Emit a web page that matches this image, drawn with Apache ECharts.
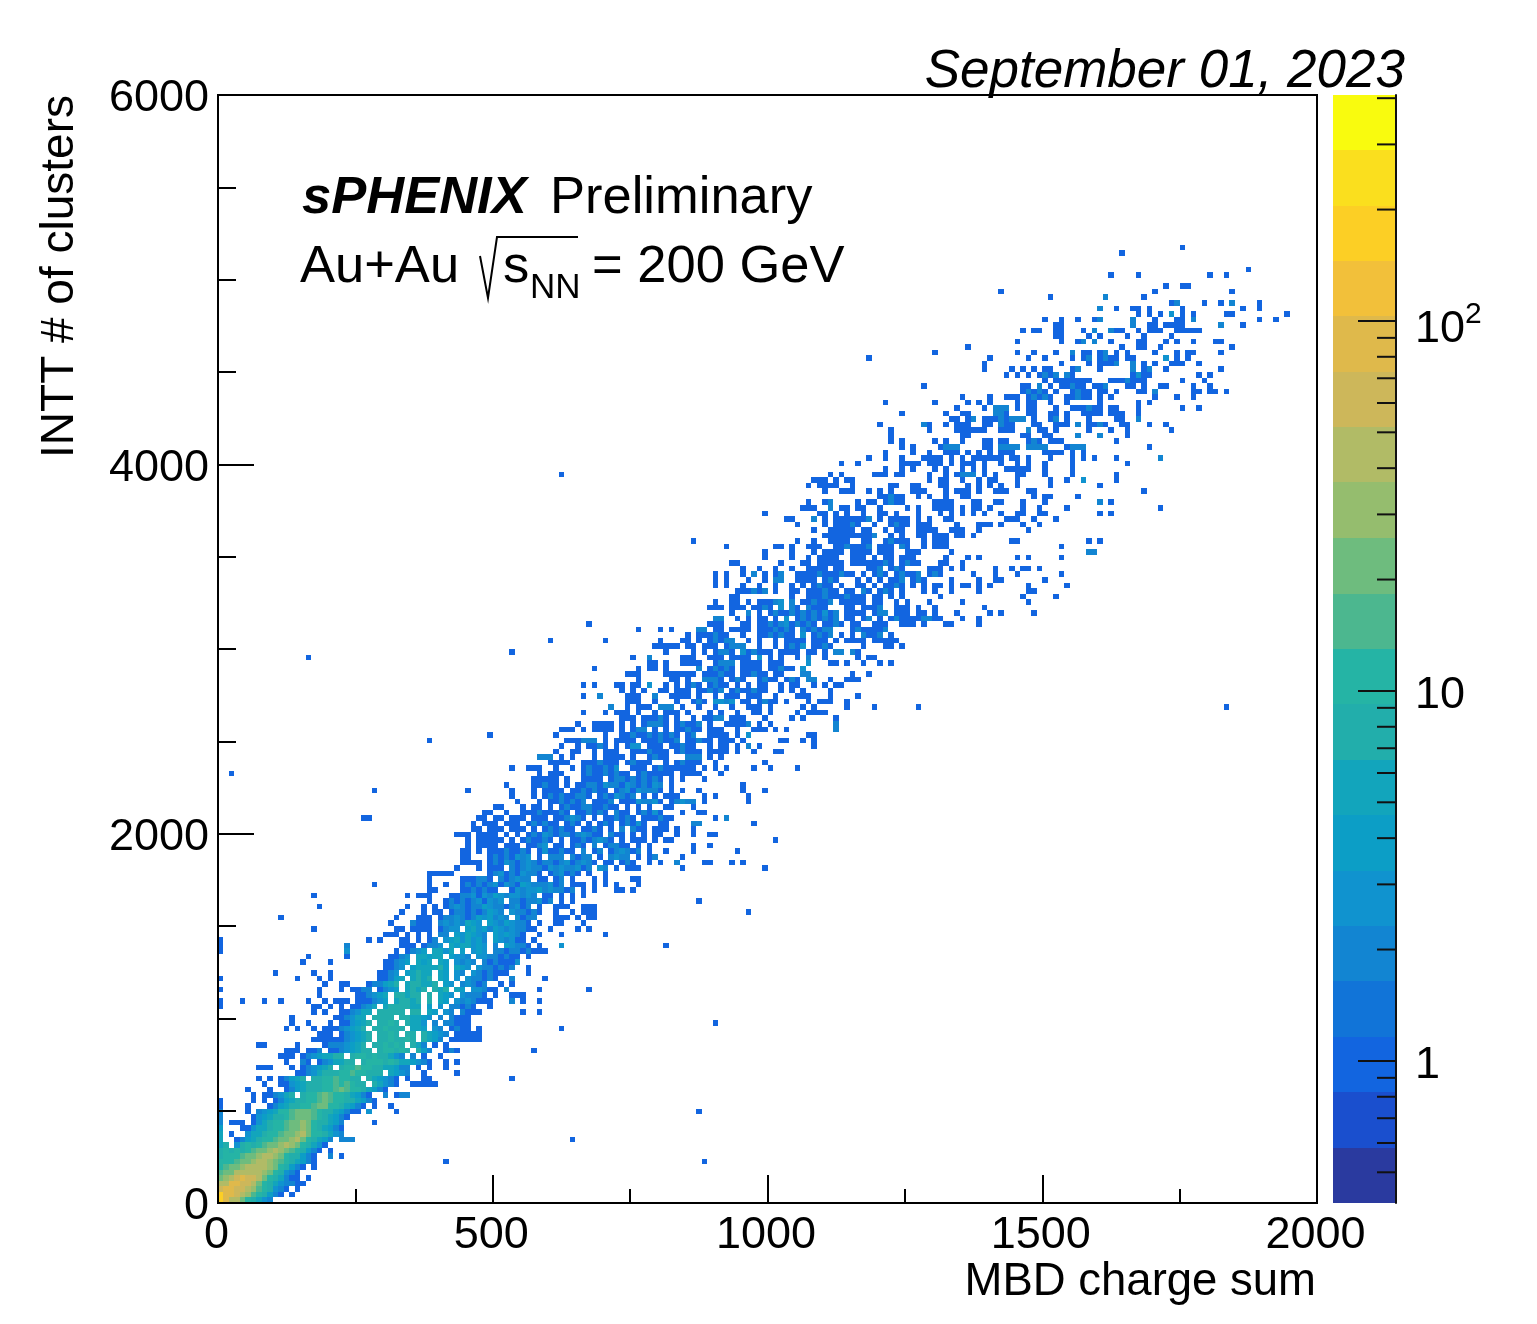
<!DOCTYPE html>
<html>
<head>
<meta charset="utf-8">
<title>INTT clusters vs MBD charge</title>
<script src="https://cdn.jsdelivr.net/npm/echarts@6/dist/echarts.min.js"></script>
<style>
  html, body { margin: 0; padding: 0; background: #fff; }
  #main { width: 1537px; height: 1324px; }
</style>
</head>
<body>
<div id="main"></div>
<script>
// histogram binning, one cell is 10 charge units by 30 clusters
const binX = 10
const binY = 30

// [row, first column, counts], '.' is an empty bin
// 1-9 are counts, letters are the larger counts in largeCounts
const largeCounts = {a: 10, b: 12, c: 15, d: 20, e: 25, f: 30, g: 40, h: 50, i: 60, j: 80, k: 100, l: 150, m: 200}
const upperRows = [
  [172,175,"1"],[171,164,"1"],[168,187,"1"],[167,162,"1....1............1..1"],[165,172,"1..11"],
  [164,142,"1"],[164,170,"1"],[164,184,"1"],[163,151,"1"],[163,161,"2......1"],[162,173,"12....1..1.2....1"],
  [161,160,"2..1..11.1.....1..........1..1"],[160,167,"1.1.1.3.1.1.....11"],[160,194,"1"],
  [159,150,"1..1..1..12.....2...1...11.2"],[159,189,"1..1"],[158,152,"11............2..11.1111......2...1"],
  [157,146,"1.11..11...1.2..211..1.111..11111"],[156,152,"11....1.1....1..1....1"],
  [155,145,"1.......1..12.2..1....11...1.1..1...11"],[154,136,"1"],[154,164,"1..11..1"],[154,184,"1"],
  [153,130,"1"],[153,145,"1..1...1..2.11.12.1.1....1...1.11....1"],[152,118,"1"],[152,140,"1"],
  [152,147,"1..1....1.12.1211.11.....3.1.1"],[151,139,"1"],[151,153,"1....1.1112..2.1.1..111..1"],
  [150,139,"1....1.1.1.11...12...1.....2.12..1"],[150,182,"1"],[149,143,"1.1.1.1212.21"],[149,166,"1311........1.1"],
  [148,150,"1.1111111...1112111"],[148,175,"1...1"],[147,128,"1"],[147,146,"11.2.1.11211.112...11.1..11....1..1"],
  [146,146,"12121.1..1211.11.1...11.2.......1.11.1"],[146,177,"11.1"],
  [145,135,"1....1..111.12121..11211.1.1.......1...1"],[145,177,"1"],[144,121,"1"],
  [144,130,"1.....1.1.1....1.11..1..1.....1......1.1"],[143,134,"1....1.222.1.11...1..111211.11...1"],[143,175,"1..1"],
  [142,124,"1"],[142,132,"1..11....221...11..11.1..1111.111..1"],[141,133,"11.12.11121222.1..12.1...1....11..2"],
  [140,120,"1"],[140,128,"21..1.111..11.211...11..111.2.1121..11...1"],[140,172,"1"],
  [139,122,"1"],[139,129,"1....111111..111..2.11.1.....1...1..1"],[139,173,"1"],
  [138,122,"1"],[138,135,"11.........11..11....2...2....1"],[137,122,"1.1.....1.1..1...11.11...121.111.........1"],
  [136,124,"1.1....1222....11.2222.2222...1222"],[136,169,"1"],[135,121,"1....1..1..111.1.1.1.111.....1111.1.1"],
  [134,118,"1..1..1...1111.1.1.111111.11.1...1...1.1.1...1.......2"],
  [133,113,"1"],[133,116,"1.......1111.111.1.111.1..1..1.1..1....1.........1"],
  [132,121,"1..1.1...1.1..1.1.1...11111..1....1"],[131,111,"1.1"],
  [131,119,"111.11....1..1.1222.1.1...11...1....1.......1"],[130,108,"111.1.1"],
  [130,115,"1.............1.11..1..1.11...1.....1..1..3.....1"],[129,107,"1.1111..1"],
  [129,122,"11..11...11...1.1.1.1..1.....1........1"],[128,110,"1..11"],[128,115,"1..1.1.1...111...1.111.1..111...11"],
  [128,168,"1"],[127,120,"11211..1.1..1..11...........1.11....1"],[126,107,"1..12"],
  [126,116,"1.11.1211.....1111...11..11...1...1.........2.1"],[125,106,"111..2.11"],
  [125,116,"11..1....1.1..1111.1.11.1.....1..1....1"],[125,171,"1"],[124,99,"1"],[124,109,"11.1.1"],
  [124,117,"1..11.1...1...1.1.1.1.1..1..11..11.........1.1"],[123,103,"11...2.1.111"],
  [123,115,"1112.1.1111.1.1..11.........111..1...1"],[122,105,"1....1.11111"],
  [122,115,"21..1..1211.111....1...111.1...1..1"],[121,108,"1..1111"],[121,115,"1.11..1.11..1111..111..1........1"],
  [120,110,"111111"],[120,115,"11112..1.1..11.111.11.1"],[119,86,"1"],[119,105,"1..1..1111"],
  [119,117,"11..12111..1.111"],[119,144,"11............1.1"],[118,92,"1"],[118,101,"11.1..111..1122"],
  [118,115,"1112.111.21..1.111"],[118,153,"1"],[117,99,"1....1...1.1111.111"],[117,116,"111.111..111.....1"],[117,158,"22"],
  [116,99,"1"],[116,104,"1..1.1111..111"],[116,115,"1.1.1.11.111.....1...1.1......1.1.....1"],
  [115,93,"11"],[115,102,"1...11.11111.1....11"],[115,116,"1111121.1211...11..1"],
  [114,95,"1..1..1..1..1111.11"],[114,118,"112.121....111.1.1.....1..1.11.1"],
  [113,90,"1.1..1.2.1.12..11112111211.1"],[113,119,"121.12112.121.....1...1...1.......1"],
  [112,90,"1.1...1..1.22..1111.121"],[112,116,"1.1.1.112.121....1....1..11.......1"],
  [111,90,"1.1..1..1..1..1.1.1211.1"],[111,116,"11.1.1121.1.1.11.1.11.1.1......1......1"],
  [110,94,"111212.1..11.111211.11"],[110,115,"1.21.121.1...1.1..1....1........11"],
  [109,93,"11.........1..111211121"],[109,115,"111.11.1.1......1..............1.....1"],
  [108,90,"1..11.1.11123.2.112112.11111"],[108,119,"11..1.1...1.....1...........1"],
  [107,89,"111.111.1121.3.21.2111...11.1"],[107,117,"1112..111.1..1........1"],
  [106,93,"1..2.1.1211212121312.11"],[106,115,"111.122.111.11.1...1.....1.1.....1"],
  [105,90,"22..1.1.11.1.3.12121212.11"],[105,115,"1.12.1.1211112211...1..1"],
  [104,67,"1"],[104,89,"111...11.11212312121.1121"],[104,115,"11..111..111.1...11....1"]
]
const middleRows = [
  [103,76,"1...1.1....22.11.1111.1112121.212122...1"],[103,115,"1211112"],
  [102,85,"1.111211..1..1121211.3.1212.1.1.2112.1"],[101,60,"1.........1.........1"],
  [101,84,"11.1.12122..1.1..1.1111.111.1.1111.11111"],[100,79,"11111.11.111.1222..1..1.1213.1121.....1...11.1"],
  [99,53,"1"],[99,81,"1....1.1.1221.312111.1111.11.1.22.21"],[98,75,"1..2.....111..111.1111.3.1.1..1.2..1.....1.11"],
  [97,78,"11.1..1111..1222.1111.111....3...11.1..1..1.1"],[96,68,"1"],[96,76,"1.11.1.....2.12121.1111.11211.3"],
  [95,74,"111....111111.111211.11211.11...22.......1..1"],[94,76,"1.....11.1..2221.121..1211.121.22..1..111"],
  [93,66,"1.1...11.11.3..1.1.121.1211.1.1.11..1.11..1.1.11"],[92,73,"1.1.1..11.111.11212.1211211..1.1.1....1"],
  [91,66,"1..2....111..2..1111.1..1.111.111..1...111...1....1"],[90,74,"111..1...1..121.3323.11.1211.1...1.111..1"],
  [89,71,"2..1.111.222.1..1..1..1..111.1.....1.1.....1....1"],[89,127,"1"],[89,183,"1"],
  [88,66,"1...1.111.1..1.111.1...1.1..1..11.1....1.1111"],[87,73,"111.11121.1..1.1122.111...1....1.1.....1"],
  [86,65,"1..1111.1.1.12221.12112.1..11112.1.1...........2"],[85,62,"111.1.1111.1.122.1.1.11211.111..1..111.1.1........2"],
  [84,49,"1"],[84,61,"1........1..11211212121.12..1111.1.3..........11"],[83,38,"1"],
  [83,63,"111222.1.1111.1112112.11211.111.1......11..1.1"],[82,62,"1..1.1121.1.133.111.11211..1.11.1.2.1.........1"],
  [81,61,"1..11..1.111..1112111.12111.1111.1..1...11"],[80,58,"222.1.1...1.1111.1..1211...222.1.1"],
  [79,60,"1111..1112111.12111..1.12111..1........1"],[78,53,"1..111..1..1.1211213..111.12111111.1.1.1....1..1....1"],
  [77,2,"1"],[77,58,"1.111...121121211.1211111.1111...1"],[76,57,"11111.1..1111.1221212121.1.1...1"],
  [75,52,"1....11211.1.1122132213212132.1"],[75,95,"1"],[74,28,"1"],[74,45,"1"],
  [74,53,"1...1.1111.1121211.123132221.1.1..1.......1...1"],[73,53,"1...1.121211221.1213212.1.1.111....1.1.....1"],
  [72,54,"1...1.1121212.1112.11132231.12322.1.......1"],[71,50,"11...1.11.1.12112211211.1.1.1..11...1"],
  [70,48,"11..1..111211121.112121.211.12131...1..11"],[69,26,"11"],[69,47,"11.11.111.111.112321.1.112121.111211.......1.2"],
  [68,46,"1.111.111.121211.121.1.121.12131..11....22.........1"],[67,46,"11.111.111.1.121211.1121.1.2.211.111.1..1"],
  [66,43,"111.1111.1.1.12132122123211.211.1.1.11..1..1..11"],[65,45,"1.11111.1.121121.1.11212321.1.111.1.11"],[65,101,"1"],
  [64,45,"1.1111.111.1123.11.121.2.12211.1.1.......1..1"],[63,44,"11.1.11121121.1311211.2.12.123212.1..1....1.......1"],
  [62,44,"11...12121323.1.222.2122.1.2322.1.12....1"],[61,44,"1111.12132123212212312321.11.121..1.1..2....11...1.1"],
  [60,43,"1...1.111.212322132322312.32.1.111.......1"],[60,99,"1"],[59,38,"11111......1231213221.123121.1..1"],
  [58,38,"1.....111221.212322.11.12.1...1.1....11"],[57,28,"1"],[57,38,"1..1..1212123132143222312.111.1.1.1...1"],
  [56,38,"11....1121211..132334232212.1.1...11.1"],[55,17,"1"],[55,34,"1.111...1122313243233232.11.1.1.1"],[54,87,"1"],
  [54,38,"1..12121231323.22122312.1.1"]
]
const lowerRows = [
  [53,18,"1"],[53,34,"1..1.1.1232122432212312.1..111..111"],[52,33,"1...1.11.1221212432.322121..1..1.111"],[52,96,"1"],
  [51,11,"1"],[51,32,"1...111.1223212434232.3122...111.1.11"],[50,31,"1...2111.23232543.43243221.1..11...1"],
  [49,17,"1"],[49,32,"11.1111.1233.4534243232211..1....1.1"],[48,30,"111.1.1.1.22.435432.434321..1...1.......1"],
  [47,0,"1"],[47,27,"1.1...11.1.12.34535342.432311.1"],[46,0,"1"],[46,23,"2.........111.1223.5465343.2.43221.1...3"],[46,81,"1"],
  [45,0,"1"],[45,23,"3........1.1234.6535.4.343.2212212111"],[44,16,"1......1.......1123.56456.4332.33221211.1"],
  [43,15,"1....1.........11234.546.54.3232.2121113"],[42,30,"1123.4565674.543.3221212..1"],[41,10,"1"],[41,20,"1........1123.46756.54.32.3212111...1"],
  [40,0,"1"],[40,14,"1...1.1........11245.6758.54.3.322121..2.....1"],[39,19,"1..11...122457.678657.43.23212..1.1"],
  [38,0,"1"],[38,18,"1...1.1122.1234.5768.768.54.33211.2"],[38,58,"1"],[38,67,"1"],[37,18,"1......112345.78679.7.543.32221.1..111"],
  [36,0,"1...1...1..1....1..1.111.111234.68768.7.54.3232111...2.1..1"],[35,0,"1"],[35,17,"11.1.1.11235.6787965.4.3.22121..1"],
  [34,17,"1.1..112356.78979.87.54.32.2111"],[34,55,"1..1"],[33,13,"1.......112356.8987.876543.2.2111"],
  [32,13,"1..1...1.113467.97a8.7653.2.22111"],[32,90,"1"],[31,12,"1.1..1.11123467.89a879.654.32.1211.1"],[31,62,"1"],
  [30,18,"111.123467.98a7.98.76432.11111"],[29,17,"11111123457.89a98a8.7642.111111"],[28,7,"11.....1....12223457.89a9a8.752.1.1"],
  [27,12,"111.112.11234679.8ab9a8.742..121"],[27,57,"1"],[26,11,"111.12345678.9ab9a87532.2.1..1"],
  [25,12,"1..21.1235679.8abb9a7654321..1.1"],[24,7,"111...1.123467.9abcba8765422.1.1..1"],
  [23,14,"11235789abcba987.5432..1.....1"],[22,7,"1.1.12457.89abcba98.764321.1..11"],[22,53,"1"],
  [21,8,"1..11346789abcbca98.75321..11111"],[20,5,"1...1..1245789abcdcba86421"],[19,6,"1.112357.8abcdcba86421..2.122"],
  [18,0,"1.....1.1.124679abcdcba875421"],[17,0,"1....1...124679abcdeba86421.1..1"],[16,0,"2....1.2346abcdedcb9754211.3....1"],
  [16,87,"1"],[15,0,"2.....134689bcdedca75421"],[14,0,"2.111.1357abcdefdb98642.....1"],[13,0,"4...113568abcdefdb96421"],
  [12,0,"5.1..3568abcdefgdba7532"],[11,0,"5..12467abcdefgdb9642.222"],[11,64,"1"],[10,0,"67.39a8bcdefgfdb9531"],
  [9,0,"7a8a9bcdefgfeca7421.1"],[8,0,"8aabcdefggfdb97421..2.1"],[7,0,"abbcdefggfeca86421"],[7,41,"1"],[7,88,"1"],
  [6,0,"bcdefghggfdb8421.1"],[5,0,"cdeghhhgfda7321"],[4,0,"efgijiigeb85211.1"],[3,0,"ghjjiigeb9532211"],
  [2,0,"ijjiihfca7321.1"],[1,0,"lkjihfca7421.1"],[0,0,"mkhgeb8532"]
]
const strayRows = [
  [131,62,"1"],[98,16,"1"],[99,53,"1"],[104,67,"1"],[101,70,"1"],[103,76,"1"],[84,49,"1"],[57,28,"1"],[55,17,"1"],
  [53,18,"1"],[43,20,"1"],[41,17,"1"],[60,99,"1"],[72,96,"1"],[65,101,"1"]
]

// colour scale, 20 bands on a log axis
const bandEdges = [0.413,0.583,0.824,1.16,1.64,2.32,3.27,4.62,6.52,9.2,13,18.3,25.9,36.6,51.6,72.9,103,145,205,289,408]
const bandColors = ['#2a3a9f','#1a4fce','#1265e0','#1174d8','#1285d2','#1093cf','#0c9ec6','#12a5bc','#22aeab','#25b4a5',
  '#4cb78f','#6ebc7e','#95bd6e','#b1bb66','#cdb75a','#dfb94b','#f2c03a','#fccf25','#fadf1e','#f9fb0e']
const barMajorTicks = [1, 10, 100]
const barMinorTicks = [0.5,0.6,0.7,0.8,0.9,2,3,4,5,6,7,8,9,20,30,40,50,60,70,80,90,200,300,400]

const cellMap = new Map()
for (const [row, firstCol, counts] of [...upperRows, ...middleRows, ...lowerRows, ...strayRows]) {
  [...counts].forEach((ch, i) => {
    if (ch === '.') return
    const col = firstCol + i
    cellMap.set(col + '_' + row, [col * binX, row * binY, largeCounts[ch] || Number(ch)])
  })
}
const cells = [...cellMap.values()]

const font = 'Liberation Sans'
const black = '#000'
const chart = echarts.init(document.getElementById('main'), null, {renderer: 'canvas'})

chart.setOption({
  animation: false,
  backgroundColor: '#fff',
  textStyle: {fontFamily: font},
  grid: [
    {left: 218, top: 95, width: 1099, height: 1108, outerBoundsMode: 'none', show: true, borderColor: black, borderWidth: 2, backgroundColor: '#fff'},
    {left: 1333, top: 95, width: 63, height: 1108, outerBoundsMode: 'none'}
  ],
  xAxis: [
    {
      type: 'value', gridIndex: 0, min: 0, max: 2000, interval: 500, z: 5,
      axisLine: {lineStyle: {color: black, width: 2}},
      axisTick: {inside: true, length: 28, lineStyle: {color: black, width: 2}},
      minorTick: {show: true, splitNumber: 2, length: 14, lineStyle: {color: black, width: 2}},
      splitLine: {show: false},
      axisLabel: {fontSize: 45, color: black, margin: 10, padding: [0, 3, 0, 0], hideOverlap: false, showMinLabel: true, showMaxLabel: true, formatter: (v) => String(v)}
    },
    {type: 'value', gridIndex: 1, min: 0, max: 1, show: false}
  ],
  yAxis: [
    {
      type: 'value', gridIndex: 0, min: 0, max: 6000, interval: 2000, z: 5,
      name: 'INTT # of clusters', nameLocation: 'end', nameGap: 0, nameRotate: 90,
      nameTextStyle: {fontSize: 46, color: black, align: 'right', verticalAlign: 'bottom', padding: [0, 0, 135, 0]},
      axisLine: {lineStyle: {color: black, width: 2}},
      axisTick: {inside: true, length: 36, lineStyle: {color: black, width: 2}},
      minorTick: {show: true, splitNumber: 4, length: 18, lineStyle: {color: black, width: 2}},
      splitLine: {show: false},
      axisLabel: {
        color: black, margin: 9, showMinLabel: true, showMaxLabel: true,
        formatter: (v) => '{t|' + v + '}',
        rich: {t: {fontSize: 45, color: black, fontFamily: font, padding: [8, 0, 0, 0]}}
      }
    },
    {
      type: 'log', logBase: 10, gridIndex: 1, position: 'right', min: 0.413, max: 408, z: 5,
      axisLine: {show: true, onZero: false, lineStyle: {color: '#111', width: 2}},
      axisTick: {show: true, inside: true, length: 38, customValues: barMajorTicks, lineStyle: {color: '#111', width: 2}},
      splitLine: {show: false},
      axisLabel: {
        color: black, margin: 19, customValues: barMajorTicks,
        formatter: (v) => (v >= 100 ? '{c|10}{s|2}' : '{b|' + Math.round(v) + '}'),
        rich: {
          b: {fontSize: 45, color: black, fontFamily: font, padding: [10, 0, 0, 0]},
          c: {fontSize: 45, color: black, fontFamily: font, padding: [18, 0, 0, 0]},
          s: {fontSize: 30, color: black, fontFamily: font, padding: [0, 0, 12, 0]}
        }
      }
    }
  ],
  visualMap: {
    show: false, type: 'piecewise', seriesIndex: 0, dimension: 2,
    pieces: bandColors.map((color, i) => ({gte: bandEdges[i], lt: bandEdges[i + 1], color}))
  },
  series: [
    {
      type: 'custom', xAxisIndex: 0, yAxisIndex: 0, z: 2, silent: true,
      data: cells,
      encode: {x: 0, y: 1},
      renderItem(params, api) {
        const x = api.value(0)
        const y = api.value(1)
        const a = api.coord([x, y + binY])
        const b = api.coord([x + binX, y])
        const left = Math.round(a[0])
        const top = Math.round(a[1])
        return {
          type: 'rect',
          shape: {x: left, y: top, width: Math.round(b[0]) - left, height: Math.round(b[1]) - top},
          style: {fill: api.visual('color')}
        }
      }
    },
    {
      // palette of the colour bar
      type: 'custom', xAxisIndex: 1, yAxisIndex: 1, z: 2, silent: true,
      data: bandColors.map((c, i) => [bandEdges[i], bandEdges[i + 1], i]),
      encode: {y: [0, 1]},
      renderItem(params, api) {
        const a = api.coord([0, api.value(1)])
        const b = api.coord([1, api.value(0)])
        return {
          type: 'rect',
          shape: {x: a[0], y: Math.round(a[1]), width: b[0] - a[0], height: Math.round(b[1]) - Math.round(a[1])},
          style: {fill: bandColors[api.value(2)]}
        }
      }
    },
    {
      // short ticks of the colour bar
      type: 'custom', xAxisIndex: 1, yAxisIndex: 1, z: 3, silent: true,
      data: barMinorTicks.map((v) => [v]),
      encode: {y: 0},
      renderItem(params, api) {
        const p = api.coord([1, api.value(0)])
        return {
          type: 'line',
          shape: {x1: p[0] - 19, y1: p[1], x2: p[0], y2: p[1]},
          style: {stroke: '#111', lineWidth: 2}
        }
      }
    }
  ],
  graphic: [
    {type: 'text', z: 10, style: {x: 1405, y: 72, text: 'September 01, 2023', font: 'italic 53px ' + font, fill: black, textAlign: 'right', textVerticalAlign: 'middle'}},
    {type: 'text', z: 10, style: {x: 1316, y: 1282, text: 'MBD charge sum', font: '45.5px ' + font, fill: black, textAlign: 'right', textVerticalAlign: 'middle'}},
    {type: 'text', z: 10, style: {x: 302, y: 199, text: 'sPHENIX', font: 'italic bold 52.5px ' + font, fill: black, textVerticalAlign: 'middle'}},
    {type: 'text', z: 10, style: {x: 550, y: 199, text: 'Preliminary', font: '52.5px ' + font, fill: black, textVerticalAlign: 'middle'}},
    {type: 'text', z: 10, style: {x: 300, y: 268, text: 'Au+Au', font: '52.5px ' + font, fill: black, textVerticalAlign: 'middle'}},
    {type: 'polyline', z: 10, shape: {points: [[480, 256], [488, 298], [497, 237], [578, 237]]}, style: {stroke: black, fill: null, lineWidth: 2}},
    {type: 'text', z: 10, style: {x: 503, y: 268, text: 's', font: '52.5px ' + font, fill: black, textVerticalAlign: 'middle'}},
    {type: 'text', z: 10, style: {x: 530, y: 288, text: 'NN', font: '35px ' + font, fill: black, textVerticalAlign: 'middle'}},
    {type: 'text', z: 10, style: {x: 592, y: 268, text: '= 200 GeV', font: '52.5px ' + font, fill: black, textVerticalAlign: 'middle'}}
  ]
})
</script>
</body>
</html>
